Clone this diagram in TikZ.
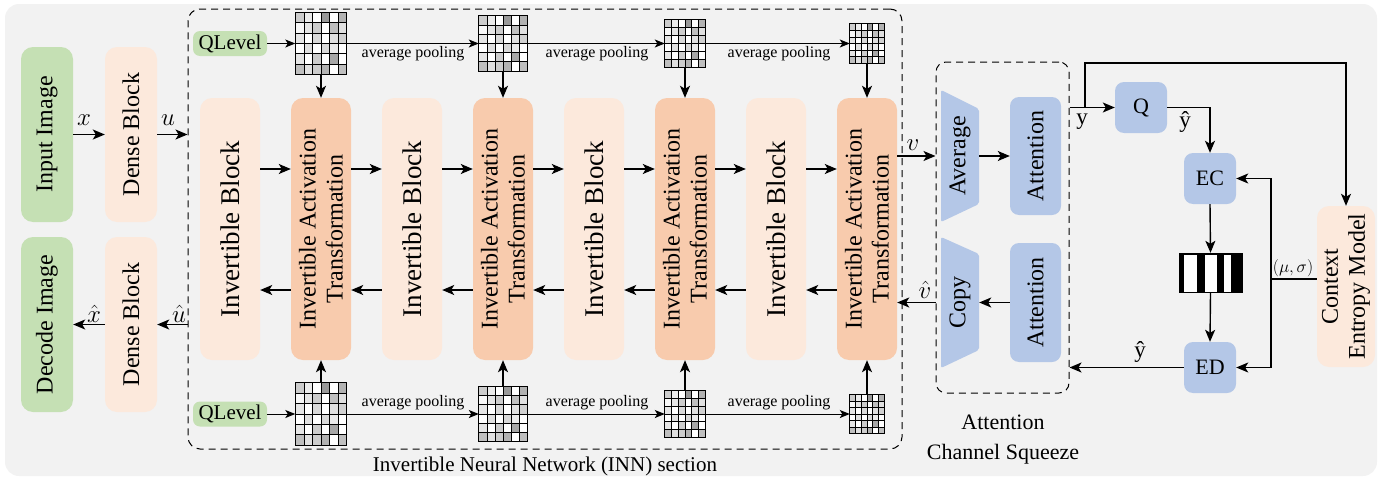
\documentclass[tikz,border=0pt]{standalone}
\usepackage{fontspec}
\setmainfont{Liberation Serif}
\usetikzlibrary{arrows.meta}
\definecolor{bgc}{HTML}{F2F2F2}
\definecolor{grn}{HTML}{C5E0B4}
\definecolor{pch}{HTML}{FCE9DC}
\definecolor{org}{HTML}{F8CBAD}
\definecolor{blu}{HTML}{B4C7E7}
\newcommand{\blk}[7]{%
  \node[#1, minimum width=#5, minimum height=#6] (#2) at (#3,#4) {};
  \node[txt, rotate=90, align=center] (#2t) at (#2.center) {#7};}
\newcommand{\qgrid}[5]{%
  \node[minimum width=#4, minimum height=#5, inner sep=0pt] (#1) at (#2,#3) {};
  \foreach \row [count=\r] in {{20,8,0,40,0,30},{3,10,20,0,25,12},{10,0,15,0,12,18},{0,12,0,15,8,0},{10,0,20,0,35,0},{25,12,20,30,0,25}}{
    \foreach \v [count=\c] in \row {
      \fill[black!\v] ({#2-#4/2+(\c-1)*#4/6},{#3-#5/2+(\r-1)*#5/6}) rectangle ++({#4/6},{#5/6});
    }}
  \foreach \i in {1,...,5}{
    \draw[line width=0.9pt] ({#2-#4/2+\i*#4/6},{#3-#5/2}) -- ++(0,#5);
    \draw[line width=0.9pt] ({#2-#4/2},{#3-#5/2+\i*#5/6}) -- ++(#4,0);}
  \draw[line width=1pt] (#1.north west) rectangle (#1.south east);}
\begin{document}
\begin{tikzpicture}[x=1pt,y=-1pt,
  arr/.style={-{Stealth[length=12pt,width=10pt,inset=3pt]}, line width=1.4pt},
  tarr/.style={-{Stealth[length=10pt,width=8pt,inset=2.5pt]}, line width=1pt},
  gbox/.style={fill=grn, rounded corners=12pt, inner sep=0pt},
  pbox/.style={fill=pch, rounded corners=12pt, inner sep=0pt},
  obox/.style={fill=org, rounded corners=12pt, inner sep=0pt},
  bbox/.style={fill=blu, rounded corners=9pt, inner sep=0pt},
  txt/.style={font=\fontsize{24}{27}\selectfont, inner sep=0pt},
  btxt/.style={font=\fontsize{27}{30}\selectfont, inner sep=0pt},
  lbl/.style={font=\fontsize{16}{18}\selectfont, inner sep=0pt},
  mlbl/.style={font=\fontsize{27}{29}\selectfont, inner sep=0pt},
  ylbl/.style={font=\fontsize{23}{25}\selectfont, inner sep=0pt},
  dbox/.style={draw, dash pattern=on 7pt off 5pt, line width=1pt, inner sep=0pt},
  qbox/.style={fill=grn, rounded corners=7pt, inner sep=0pt, minimum width=74, minimum height=25, font=\fontsize{21}{23}\selectfont}
]
\useasboundingbox (0,0) rectangle (1382,479);
\fill[bgc, rounded corners=14pt] (5,4) rectangle (1377,476);

% INN dashed box
\node[dbox, rounded corners=12pt, minimum width=714, minimum height=440] (inn) at (545,229) {};
\node[font=\fontsize{21}{23}\selectfont, inner sep=0pt] (innl) at (545,466) {Invertible Neural Network (INN) section};

% left blocks
\blk{gbox}{inp}{47}{134.5}{52}{175}{Input Image}
\blk{pbox}{dbt}{131}{134.5}{52}{175}{Dense Block}
\blk{gbox}{dec}{47}{324.5}{52}{175}{Decode Image}
\blk{pbox}{dbb}{131}{324.5}{52}{175}{Dense Block}

% INN blocks
\node[pbox, minimum width=60, minimum height=262] (ib1) at (230,229) {};
\node[btxt, rotate=90] (ib1t) at (ib1.center) {Invertible Block};
\node[pbox, minimum width=60, minimum height=262] (ib2) at (412,229) {};
\node[btxt, rotate=90] (ib2t) at (ib2.center) {Invertible Block};
\node[pbox, minimum width=60, minimum height=262] (ib3) at (594,229) {};
\node[btxt, rotate=90] (ib3t) at (ib3.center) {Invertible Block};
\node[pbox, minimum width=60, minimum height=262] (ib4) at (776,229) {};
\node[btxt, rotate=90] (ib4t) at (ib4.center) {Invertible Block};
\blk{obox}{iat1}{321}{229}{60}{262}{Invertible Activation\\Transformation}
\blk{obox}{iat2}{503}{229}{60}{262}{Invertible Activation\\Transformation}
\blk{obox}{iat3}{685}{229}{60}{262}{Invertible Activation\\Transformation}
\blk{obox}{iat4}{867}{229}{60}{262}{Invertible Activation\\Transformation}

\coordinate (fy) at (0,169);
\coordinate (by) at (0,290);
\foreach \a/\b in {ib1/iat1,iat1/ib2,ib2/iat2,iat2/ib3,ib3/iat3,iat3/ib4,ib4/iat4}{
  \draw[arr] (\a.east |- fy) -- (\b.west |- fy);
  \draw[arr] (\b.west |- by) -- (\a.east |- by);
}

% left arrows
\draw[arr] (inp.east) -- (dbt.west);
\draw[arr] (dbt.east) -- (dbt.east -| inn.west);
\draw[arr] (dbb.west) -- (dec.east);
\draw[arr] (dbb.east -| inn.west) -- (dbb.east);
\node[mlbl] (lx) at (84,120) {$x$};
\node[mlbl] (lu) at (168,120) {$u$};
\node[mlbl] (lxh) at (94,314) {$\hat{x}$};
\node[mlbl] (luh) at (179,314) {$\hat{u}$};

% QLevel and grids (top)
\node[qbox] (qlt) at (230,43.5) {QLevel};
\qgrid{g1t}{321}{43.5}{51}{62}
\qgrid{g2t}{503}{43.5}{48}{55}
\qgrid{g3t}{685}{43.5}{40}{47}
\qgrid{g4t}{867}{43.5}{34}{39}
\draw[tarr] (qlt.east) -- (g1t.west);
\draw[tarr] (g1t.east) -- (g2t.west);
\draw[tarr] (g2t.east) -- (g3t.west);
\draw[tarr] (g3t.east) -- (g4t.west);
\node[lbl] (ap1) at (413,54) {average pooling};
\node[lbl] (ap2) at (597,54) {average pooling};
\node[lbl] (ap3) at (779,54) {average pooling};
\foreach \i in {1,2,3,4}{\draw[arr] (g\i t.south) -- (iat\i.north);}

% QLevel and grids (bottom)
\node[qbox] (qlb) at (230,414) {QLevel};
\qgrid{g1b}{321}{414}{51}{62}
\qgrid{g2b}{503}{414}{48}{55}
\qgrid{g3b}{685}{414}{40}{47}
\qgrid{g4b}{867}{414}{34}{39}
\draw[tarr] (qlb.east) -- (g1b.west);
\draw[tarr] (g1b.east) -- (g2b.west);
\draw[tarr] (g2b.east) -- (g3b.west);
\draw[tarr] (g3b.east) -- (g4b.west);
\node[lbl] (bp1) at (413,403) {average pooling};
\node[lbl] (bp2) at (597,403) {average pooling};
\node[lbl] (bp3) at (779,403) {average pooling};
\foreach \i in {1,2,3,4}{\draw[arr] (g\i b.north) -- (iat\i.south);}

% Attention Channel Squeeze
\node[dbox, rounded corners=10pt, minimum width=133, minimum height=331] (acs) at (1002.5,227.5) {};
\fill[blu, rounded corners=2pt] (941,90) -- (979,109) -- (979,204) -- (941,222) -- cycle;
\node[minimum width=38, minimum height=132, inner sep=0pt] (avg) at (960,156) {};
\node[txt, rotate=90] (avgt) at (avg.center) {Average};
\fill[blu, rounded corners=2pt] (941,237) -- (979,254) -- (979,350) -- (941,368) -- cycle;
\node[minimum width=38, minimum height=131, inner sep=0pt] (cpy) at (960,302.5) {};
\node[txt, rotate=90] (cpyt) at (cpy.center) {Copy};
\blk{bbox}{att1}{1035.5}{156}{51}{118}{Attention}
\blk{bbox}{att2}{1035.5}{302.5}{51}{119}{Attention}
\draw[arr] (iat4.east |- avg) -- (acs.west |- avg);
\draw[arr] (avg.east) -- (att1.west);
\draw[arr] (att2.west) -- (cpy.east);
\draw[arr] (acs.west |- cpy) -- (iat4.east |- cpy);
\node[mlbl] (lv) at (913,145) {$v$};
\node[mlbl] (lvh) at (925,290) {$\hat{v}$};
\node[font=\fontsize{22}{30}\selectfont, align=center, inner sep=0pt] (acsl) at (1003,440) {Attention\\Channel Squeeze};

% entropy coding part
\node[bbox, minimum width=52, minimum height=51, font=\fontsize{22}{24}\selectfont] (q) at (1141,107.5) {Q};
\node[bbox, minimum width=52, minimum height=51, font=\fontsize{22}{24}\selectfont] (ec) at (1210,178.5) {EC};
\node[bbox, minimum width=52, minimum height=51, font=\fontsize{22}{24}\selectfont] (ed) at (1210,367.5) {ED};
\node[fill=black, minimum width=64, minimum height=40, inner sep=0pt] (bc) at (1210.5,273) {};
\fill[white] (1183.5,254.5) rectangle (1196.5,291.5);
\fill[white] (1204.5,254.5) rectangle (1216.5,291.5);
\fill[white] (1223.5,254.5) rectangle (1230.5,291.5);
\blk{pbox}{cem}{1346}{286.5}{58}{161}{Context\\Entropy Model}

\coordinate (br) at (1085,107.5);
\coordinate (tp) at (1085,63);
\draw[arr] (acs.east |- q) -- (q.west);
\draw[arr] (br) -- (tp) -| (cem.north);
\draw[arr] (q.east) -| (ec.north);
\draw[arr] (ec.south) -- (bc.north);
\draw[arr] (bc.south) -- (ed.north);
\draw[arr] (ed.west) -- (ed.west -| acs.east);
\coordinate (ms) at (1271,279);
\draw[line width=1.4pt] (cem.west |- ms) -- (ms);
\draw[arr] (ms) |- (ec.east);
\draw[arr] (ms) |- (ed.east);
\node[ylbl] (ly) at (1082,122) {y};
\node[ylbl] (lyh1) at (1185,122) {ŷ};
\node[ylbl] (lyh2) at (1140,352) {ŷ};
\node[lbl] (lms) at (1293,268) {$(\mu,\sigma)$};
\end{tikzpicture}
\end{document}
